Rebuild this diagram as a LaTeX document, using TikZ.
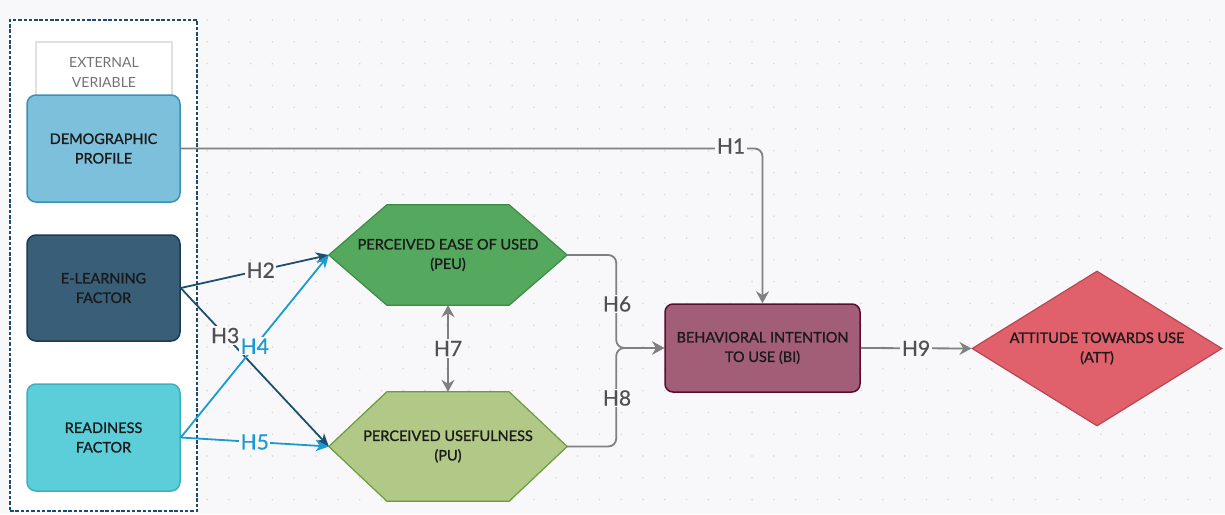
\documentclass[tikz,border=0pt]{standalone}
\usepackage{fontspec}
\setmainfont{Lato}
\newfontfamily\nodefont{Lato}[FakeBold=1.2]
\newfontfamily\lblfont{Lato}[FakeBold=0.6]
\usetikzlibrary{arrows.meta,shapes.geometric,calc}
\pgfdeclarelayer{bg}
\pgfsetlayers{bg,main}
\definecolor{bgc}{HTML}{F8F8FA}
\definecolor{dotc}{HTML}{D8D8DE}
\definecolor{framec}{HTML}{1F4A6E}
\definecolor{demoF}{HTML}{7DC0DC}
\definecolor{demoB}{HTML}{3C90B5}
\definecolor{elF}{HTML}{395E78}
\definecolor{elB}{HTML}{1C3A50}
\definecolor{rdF}{HTML}{5BCEDA}
\definecolor{rdB}{HTML}{3CB0BE}
\definecolor{peuF}{HTML}{54A95E}
\definecolor{peuB}{HTML}{3D8B44}
\definecolor{puF}{HTML}{B2C887}
\definecolor{puB}{HTML}{6C9A3C}
\definecolor{biF}{HTML}{A35E77}
\definecolor{biB}{HTML}{5A0E2E}
\definecolor{attF}{HTML}{E0616B}
\definecolor{attB}{HTML}{B9464F}
\definecolor{grayline}{HTML}{808080}
\definecolor{darkline}{HTML}{1D4E6E}
\definecolor{lightline}{HTML}{1A9AD0}
\definecolor{txt}{HTML}{1A1A1A}
\definecolor{lblc}{HTML}{505050}
\tikzset{
  nodetext/.style={font=\nodefont\fontsize{14.5}{19.5}\selectfont, text=txt, align=center},
  boxnode/.style={nodetext, rectangle, rounded corners=9pt, line width=1.5pt, minimum width=153pt, inner sep=0pt},
  hexnode/.style={nodetext, rectangle, minimum width=238pt, inner sep=0pt},
  hexshape/.style={line width=1.2pt, line join=round},
  garr/.style={draw=grayline, line width=1.8pt, -{Stealth[length=12pt,width=13pt,inset=4pt]}},
  darr/.style={draw=darkline, line width=1.8pt, -{Stealth[length=13pt,width=11pt,inset=4pt]}},
  larr/.style={draw=lightline, line width=1.8pt, -{Stealth[length=13pt,width=11pt,inset=4pt]}},
  lbl/.style={font=\lblfont\fontsize{21}{21}\selectfont, text=lblc, fill=bgc, inner sep=1.5pt},
  lbllight/.style={lbl, text=lightline}
}
\begin{document}
\begin{tikzpicture}[x=1pt,y=-1pt]
\useasboundingbox (0,0) rectangle (1225,514);
\begin{pgfonlayer}{bg}
\fill[bgc] (0,0) rectangle (1225,514);
\foreach \i in {0,...,46} {
  \foreach \j in {0,...,22} {
    \fill[dotc] (207+21.8*\i, 20+21.8*\j) circle[radius=0.9pt];
  }
}
\end{pgfonlayer}
% external frame
\node[draw=framec, dash pattern=on 3.5pt off 1.8pt, line width=1.5pt, fill=white, minimum width=187pt, minimum height=491pt, inner sep=0pt] (frame) at (103.5,265.5) {};
\node[draw=black!12, line width=1.2pt, fill=white, minimum width=136pt, minimum height=60pt, inner sep=0pt, font=\fontsize{14}{20}\selectfont, text=black!55, align=center] (ext) at (104,72) {EXTERNAL\\VERIABLE};
% nodes
\node[boxnode, fill=demoF, draw=demoB, minimum height=107pt] (demo) at (103.5,148.5) {DEMOGRAPHIC\\PROFILE};
\node[boxnode, fill=elF, draw=elB, minimum height=106pt] (elearn) at (103.5,288) {E-LEARNING\\FACTOR};
\node[boxnode, fill=rdF, draw=rdB, minimum height=107pt] (ready) at (103.5,437.5) {READINESS\\FACTOR};
\node[hexnode, minimum height=100pt] (peu) at (448,255) {PERCEIVED EASE OF USED\\(PEU)};
\node[hexnode, minimum height=109pt] (pu) at (448,446.5) {PERCEIVED USEFULNESS\\(PU)};
\begin{pgfonlayer}{bg}
\path[hexshape, fill=peuF, draw=peuB] (peu.west) -- ($(peu.north west)+(58,0)$) -- ($(peu.north east)+(-58,0)$) -- (peu.east) -- ($(peu.south east)+(-58,0)$) -- ($(peu.south west)+(58,0)$) -- cycle;
\path[hexshape, fill=puF, draw=puB] (pu.west) -- ($(pu.north west)+(58,0)$) -- ($(pu.north east)+(-58,0)$) -- (pu.east) -- ($(pu.south east)+(-58,0)$) -- ($(pu.south west)+(58,0)$) -- cycle;
\end{pgfonlayer}
\node[boxnode, fill=biF, draw=biB, minimum width=195pt, minimum height=88pt, rounded corners=8pt] (bi) at (762.5,348) {BEHAVIORAL INTENTION\\TO USE (BI)};
\node[nodetext, diamond, aspect=1.61, fill=attF, draw=attB, line width=1.2pt, minimum width=250pt, minimum height=155pt, inner sep=0pt] (att) at (1097,348.5) {ATTITUDE TOWARDS USE\\(ATT)};
% connectors
\draw[garr, rounded corners=8pt] (demo.east) -| (bi.north);
\node[lbl] (h1) at (731,146) {H1};
\draw[darr] (elearn.east) -- node[lbl, pos=0.54] (h2) {H2} (peu.west);
\draw[darr] (elearn.east) -- node[lbl, pos=0.30] (h3) {H3} (pu.west);
\draw[larr] (ready.east) -- node[lbllight, pos=0.50] (h4) {H4} (peu.west);
\draw[larr] (ready.east) -- node[lbllight, pos=0.50] (h5) {H5} (pu.west);
\coordinate (join) at ($(bi.west)+(-48,0)$);
\draw[garr, rounded corners=8pt] (peu.east) -| (join) -- (bi.west);
\draw[garr, rounded corners=8pt] (pu.east) -| (join) -- (bi.west);
\node[lbl] (h6) at (617,304) {H6};
\node[lbl] (h8) at (617,398) {H8};
\draw[garr, {Stealth[length=12pt,width=13pt,inset=4pt]}-{Stealth[length=12pt,width=13pt,inset=4pt]}] (peu.south) -- node[lbl] (h7) {H7} (pu.north);
\draw[garr] (bi.east) -- node[lbl] (h9) {H9} (att.west);
\end{tikzpicture}
\end{document}
